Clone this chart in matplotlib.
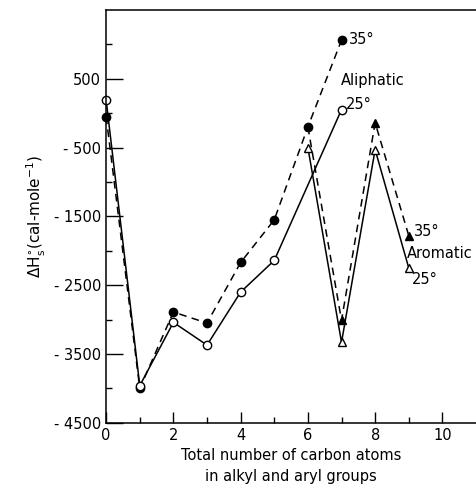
import matplotlib
matplotlib.use("Agg")
import matplotlib.pyplot as plt

# values
carbons_ali_35 = [0, 1, 2, 3, 4, 5, 6, 7]
dh_ali_35 = [-50, -4000, -2890, -3050, -2170, -1550, -200, 1060]
carbons_ali_25 = [0, 1, 2, 3, 4, 5, 7]
dh_ali_25 = [190, -3960, -3040, -3370, -2600, -2140, 50]
carbons_aro_35 = [6, 7, 8, 9]
dh_aro_35 = [-200, -3010, -140, -1780]
carbons_aro_25 = [6, 7, 8, 9]
dh_aro_25 = [-500, -3330, -530, -2250]

x_ticks = [0, 2, 4, 6, 8, 10]
y_ticks = [500, -500, -1500, -2500, -3500, -4500]
y_ticklabels = ["500", "- 500", "- 1500", "- 2500", "- 3500", "- 4500"]

plt.rcParams["font.family"] = "DejaVu Sans"
plt.rcParams["mathtext.default"] = "regular"
fig = plt.figure(figsize=(4.76, 4.94), dpi=100)
ax = fig.add_axes([0.223, 0.144, 0.777, 0.836])

lw = 1.1
dash = (0, (5, 3.5))
ax.plot(carbons_ali_35, dh_ali_35, color="black", lw=lw, linestyle=dash,
        marker="o", markersize=6, markerfacecolor="black", clip_on=False)
ax.plot(carbons_ali_25, dh_ali_25, color="black", lw=lw, linestyle="-",
        marker="o", markersize=6, markerfacecolor="white", clip_on=False)
ax.plot(carbons_aro_35, dh_aro_35, color="black", lw=lw, linestyle=dash,
        marker="^", markersize=6, markerfacecolor="black", markevery=[1, 2, 3])
ax.plot(carbons_aro_25, dh_aro_25, color="black", lw=lw, linestyle="-",
        marker="^", markersize=6, markerfacecolor="white")

fs = 10.5
ax.text(7.22, 1070, "35°", fontsize=fs, va="center")
ax.text(6.97, 480, "Aliphatic", fontsize=fs, va="center")
ax.text(7.12, 130, "25°", fontsize=fs, va="center")
ax.text(9.14, -1720, "35°", fontsize=fs, va="center")
ax.text(8.95, -2040, "Aromatic", fontsize=fs, va="center")
ax.text(9.1, -2420, "25°", fontsize=fs, va="center")

ax.set_xlim(0, 11)
ax.set_ylim(-4500, 1500)
ax.set_xticks(x_ticks)
ax.set_xticks([1, 3, 5, 7, 9], minor=True)
ax.set_yticks(y_ticks)
ax.set_yticklabels(y_ticklabels)
ax.set_yticks([1000, 0, -1000, -2000, -3000, -4000], minor=True)
ax.tick_params(which="major", direction="in", labelsize=fs, width=1)
ax.tick_params(axis="y", which="major", length=12)
ax.tick_params(axis="x", which="major", length=8)
ax.tick_params(which="minor", direction="in", length=4, width=1)

ax.spines["right"].set_visible(False)
for s in ["left", "bottom", "top"]:
    ax.spines[s].set_linewidth(1.1)

ax.set_xlabel("Total number of carbon atoms\nin alkyl and aryl groups",
              fontsize=fs, linespacing=1.5)
ax.set_ylabel(r"$\Delta H^{\circ}_{s}$(cal-mole$^{-1}$)", fontsize=fs + 0.5, labelpad=4)

fig.savefig("out.png", dpi=100)
